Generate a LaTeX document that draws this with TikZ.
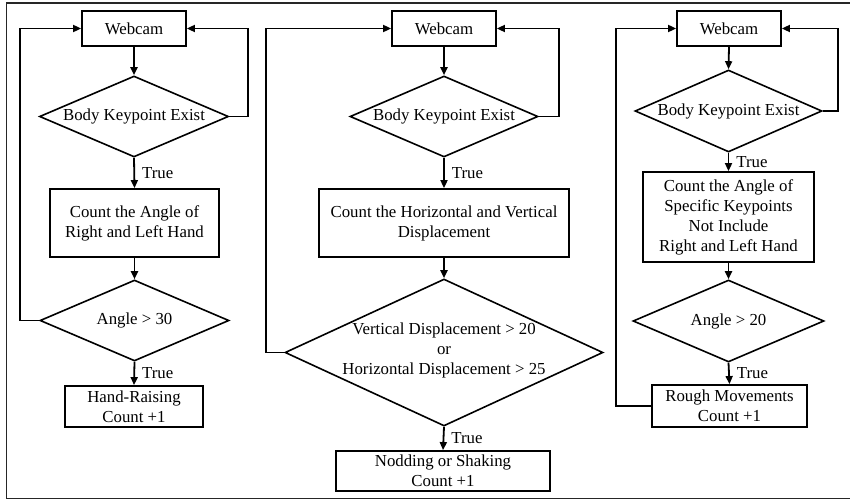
\documentclass[tikz,border=0pt]{standalone}
\usepackage{fontspec}
\setmainfont{Liberation Serif}
\usetikzlibrary{shapes.geometric,arrows.meta}
\begin{document}
\begin{tikzpicture}[x=1pt,y=-1pt,
  every node/.style={font=\fontsize{16.8}{20}\selectfont, inner sep=0pt},
  boxnode/.style={draw, line width=1.8pt, rectangle, align=center},
  decision/.style={draw, line width=1.6pt, diamond, aspect=2.3, align=center},
  flow/.style={line width=1.8pt, -{Triangle[length=8pt,width=7pt]}},
  truelbl/.style={midway, anchor=west, xshift=7pt}
]
\useasboundingbox (0,0) rectangle (850,500);
% outer frame
\draw[line width=1.6pt, black!85] (6.5,3) rectangle (853,498.5);

% ---------- hand raising ----------
\node[boxnode, minimum width=104pt, minimum height=35pt] (w1) at (134,28.5) {Webcam};
\node[decision, minimum width=189pt, minimum height=81pt] (d1) at (134,116.5) {Body Keypoint Exist};
\node[boxnode, minimum width=169pt, minimum height=68pt] (c1) at (134.5,223) {Count the Angle of\\Right and Left Hand};
\node[decision, minimum width=189pt, minimum height=81pt] (d2) at (134.5,320.5) {Angle > 30};
\node[boxnode, minimum width=138pt, minimum height=41pt] (r1) at (134,406.5) {Hand-Raising\\Count +1};

\draw[flow] (w1.south) -- (d1.north);
\draw[flow] (d1.south) -- node[truelbl]{True} (c1.north);
\draw[flow] (c1.south) -- (d2.north);
\draw[flow] (d2.south) -- node[truelbl]{True} (r1.north);
\draw[flow] (d1.east) -- ++(19,0) |- (w1.east);
\draw[flow] (d2.west) -- ++(-19,0) |- (w1.west);

% ---------- nodding / shaking ----------
\node[boxnode, minimum width=104pt, minimum height=35pt] (w2) at (444,28.5) {Webcam};
\node[decision, minimum width=188pt, minimum height=81pt] (d3) at (444,116.5) {Body Keypoint Exist};
\node[boxnode, minimum width=250pt, minimum height=68pt] (c2) at (444,223) {Count the Horizontal and Vertical\\Displacement};
% the three-line condition sits in a centred label so the diamond keeps its size
\node[decision, minimum width=318pt, minimum height=147pt,
  label={[align=center, yshift=2pt]center:Vertical Displacement > 20\\or\\Horizontal Displacement > 25}]
  (d4) at (444,352.5) {};
\node[boxnode, minimum width=214pt, minimum height=40pt] (r2) at (443,471) {Nodding or Shaking\\Count +1};

\draw[flow] (w2.south) -- (d3.north);
\draw[flow] (d3.south) -- node[truelbl]{True} (c2.north);
\draw[flow] (c2.south) -- (d4.north);
\draw[flow] (d4.south) -- node[truelbl]{True} (r2.north);
\draw[flow] (d3.east) -- ++(20,0) |- (w2.east);
\draw[flow] (d4.west) -- ++(-18,0) |- (w2.west);

% ---------- rough movements ----------
\node[boxnode, minimum width=104pt, minimum height=35pt] (w3) at (729,28.5) {Webcam};
\node[decision, minimum width=187pt, minimum height=82pt] (d5) at (728.5,111) {Body Keypoint Exist};
\node[boxnode, minimum width=171pt, minimum height=90pt] (c3) at (728.5,217)
  {Count the Angle of\\Specific Keypoints\\Not Include\\Right and Left Hand};
\node[decision, minimum width=191pt, minimum height=82pt] (d6) at (728.5,321) {Angle > 20};
\node[boxnode, minimum width=155pt, minimum height=42pt] (r3) at (729.5,406) {Rough Movements\\Count +1};

\draw[flow] (w3.south) -- (d5.north);
\draw[flow] (d5.south) -- node[truelbl]{True} (c3.north);
\draw[flow] (c3.south) -- (d6.north);
\draw[flow] (d6.south) -- node[truelbl]{True} (r3.north);
\draw[flow] (d5.east) -- ++(15,0) |- (w3.east);
\draw[flow] (r3.west) -- ++(-35,0) |- (w3.west);
\end{tikzpicture}
\end{document}
